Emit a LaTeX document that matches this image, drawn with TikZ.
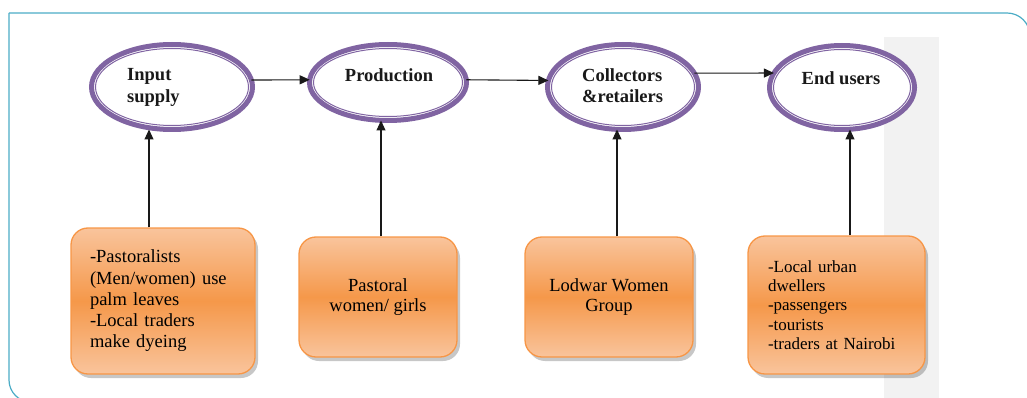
\documentclass[tikz,border=0pt]{standalone}
\usepackage{fontspec}
\setmainfont{Liberation Serif}
\newfontfamily\boxfont{Liberation Serif}
\usetikzlibrary{shapes.geometric,arrows.meta,shadows,calc}
\definecolor{frameC}{HTML}{4BACC6}
\definecolor{purp}{HTML}{8064A2}
\definecolor{orgB}{HTML}{F79646}
\definecolor{orgL}{HTML}{F9C49C}
\definecolor{orgD}{HTML}{F5984A}
\definecolor{bandC}{HTML}{F2F2F2}
\begin{document}
\begin{tikzpicture}[x=1pt,y=-1pt,
  frame/.style={draw=frameC, line width=1.2pt},
  oval/.style={ellipse, draw=purp, line width=5pt, fill=white, inner sep=0pt, outer sep=0pt},
  ovalin/.style={draw=purp, line width=1pt},
  otext/.style={font=\boxfont\bfseries\fontsize{18.5}{21.5}\selectfont, align=left, inner sep=0pt, text=black!90},
  arr/.style={-{Triangle[length=10pt,width=9pt]}, line width=1.1pt, draw=black!90},
  box/.style={rectangle, rounded corners=17pt, draw=orgB, line width=1.3pt,
    top color=orgL, bottom color=orgL, middle color=orgD,
    drop shadow={shadow xshift=3pt, shadow yshift=-4pt, opacity=0.22, fill=black},
    inner sep=0pt, text=black}
]
\useasboundingbox (0,0) rectangle (1027,398);
% background band and frame
\fill[bandC] (884,37) rectangle (939,398);
\draw[frame, rounded corners=22pt] (9,13) -- (9,402) -- (200,402);
\draw[frame, rounded corners=23pt] (9,13) -- (1030,13) -- (1030,450);

% ellipses
\node[oval, minimum width=161pt, minimum height=85pt] (e1) at (172,87) {};
\node[oval, minimum width=157pt, minimum height=76pt] (e2) at (388,82.5) {};
\node[oval, minimum width=151pt, minimum height=85pt] (e3) at (623,87) {};
\node[oval, minimum width=145pt, minimum height=84pt] (e4) at (842,87.5) {};
\draw[ovalin] (e1.center) ellipse [x radius=76.5, y radius=38.5];
\draw[ovalin] (e2.center) ellipse [x radius=74.5, y radius=34];
\draw[ovalin] (e3.center) ellipse [x radius=71.5, y radius=38.5];
\draw[ovalin] (e4.center) ellipse [x radius=68.5, y radius=38];

\node[otext, anchor=north west] (t1) at (127,68.5) {Input\\supply};
\node[otext, anchor=north] (t2) at (389,68) {Production};
\node[otext, anchor=north west] (t3) at (582,68) {Collectors\\\&retailers};
\node[otext, anchor=north] (t4) at (841,71) {End users};

% boxes
\node[box, minimum width=184pt, minimum height=146pt, align=left, text width=146pt,
  font=\boxfont\fontsize{18.5}{21.25}\selectfont] (b1) at (163,301)
  {-Pastoralists\\(Men/women) use\\palm leaves\\-Local traders\\make dyeing};
\node[box, minimum width=158pt, minimum height=120pt, align=center,
  font=\boxfont\fontsize{18.5}{20}\selectfont] (b2) at (378,297)
  {Pastoral\\women/ girls};
\node[box, minimum width=168pt, minimum height=120pt, align=center,
  font=\boxfont\fontsize{18.5}{20}\selectfont] (b3) at (609,297)
  {Lodwar Women\\Group};
\node[box, minimum width=177pt, minimum height=138pt, align=left, text width=137pt,
  font=\boxfont\fontsize{17}{19.3}\selectfont] (b4) at (836.5,305)
  {-Local urban\\dwellers\\-passengers\\-tourists\\-traders at Nairobi};

% horizontal arrows
\draw[arr] (e1.5) -- (e2.178);
\draw[arr] (e2.2) -- (e3.175);
\draw[arr] (e3.11) -- (e4.168);

% vertical arrows
\coordinate (a1) at ($(b1.north)+(-14,0)$);
\coordinate (a2) at ($(b2.north)+(3,0)$);
\coordinate (a3) at ($(b3.north)+(8,0)$);
\coordinate (a4) at ($(b4.north)+(13.5,0)$);
\draw[arr] (a1) -- (a1 |- e1.south);
\draw[arr] (a2) -- (a2 |- e2.south);
\draw[arr] (a3) -- (a3 |- e3.south);
\draw[arr] (a4) -- (a4 |- e4.south);
\end{tikzpicture}
\end{document}
